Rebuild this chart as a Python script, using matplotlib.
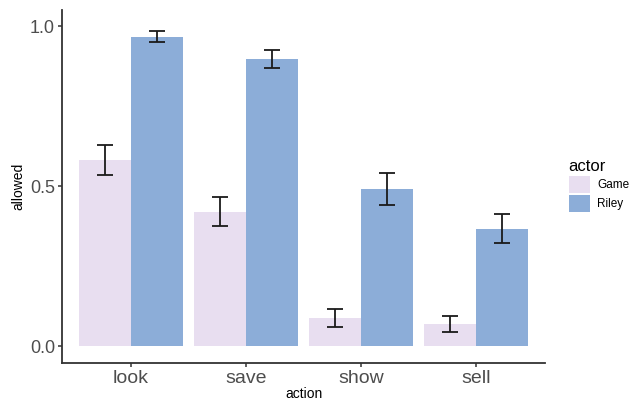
import matplotlib
matplotlib.use("Agg")
import matplotlib.pyplot as plt
import numpy as np
from matplotlib.patches import Patch

plt.rcParams["font.family"] = ["Liberation Sans", "DejaVu Sans"]

actions = ["look", "save", "show", "sell"]
actors = ["Game", "Riley"]
game_vals = [0.580, 0.420, 0.087, 0.068]
game_lo = [0.533, 0.375, 0.058, 0.045]
game_hi = [0.627, 0.466, 0.115, 0.093]
riley_vals = [0.967, 0.896, 0.490, 0.366]
riley_lo = [0.949, 0.868, 0.442, 0.323]
riley_hi = [0.984, 0.925, 0.540, 0.413]

colors = {"Game": "#E8DEF0", "Riley": "#8CADD8"}

fig = plt.figure(figsize=(6.34, 4.0), dpi=100)
ax = fig.add_axes([62/634, 1-363/400, (545-62)/634, (363-10)/400])

x = np.arange(1, len(actions)+1)
w = 0.45
for off, name, vals, lo, hi in [(-w/2, "Game", game_vals, game_lo, game_hi),
                                (w/2, "Riley", riley_vals, riley_lo, riley_hi)]:
    ax.bar(x+off, vals, width=w, color=colors[name], edgecolor="none", zorder=1)
    vals = np.array(vals); lo = np.array(lo); hi = np.array(hi)
    ax.errorbar(x+off, vals, yerr=[vals-lo, hi-vals], fmt="none",
                ecolor="#1a1a1a", elinewidth=1.3, capsize=5.5, capthick=1.3, zorder=3)

ax.set_xlim(0.4, 4.6)
ax.set_ylim(-0.053, 1.05)
ax.set_xticks(x)
ax.set_xticklabels(actions, fontsize=14, color="#4D4D4D")
ax.set_yticks([0.0, 0.5, 1.0])
ax.set_yticklabels(["0.0", "0.5", "1.0"], fontsize=13, color="#4D4D4D")
ax.tick_params(axis="both", length=3, width=1.1, color="#333333", pad=2)
for s in ["top", "right"]:
    ax.spines[s].set_visible(False)
for s in ["left", "bottom"]:
    ax.spines[s].set_color("#333333")
    ax.spines[s].set_linewidth(1.3)
ax.set_xlabel("action", fontsize=10, labelpad=0)
ax.set_ylabel("allowed", fontsize=10, labelpad=3)

handles = [Patch(facecolor=colors[a], edgecolor="none", label=a) for a in actors]
leg = fig.legend(handles=handles, title="actor", loc="upper left",
                 bbox_to_anchor=(558/634, 1-148/400), frameon=False,
                 fontsize=8.5, title_fontsize=12, handlelength=1.8, handleheight=1.8,
                 handletextpad=0.6, labelspacing=0.2)
leg._legend_box.align = "left"

fig.savefig("out.png", dpi=100, facecolor="white")
